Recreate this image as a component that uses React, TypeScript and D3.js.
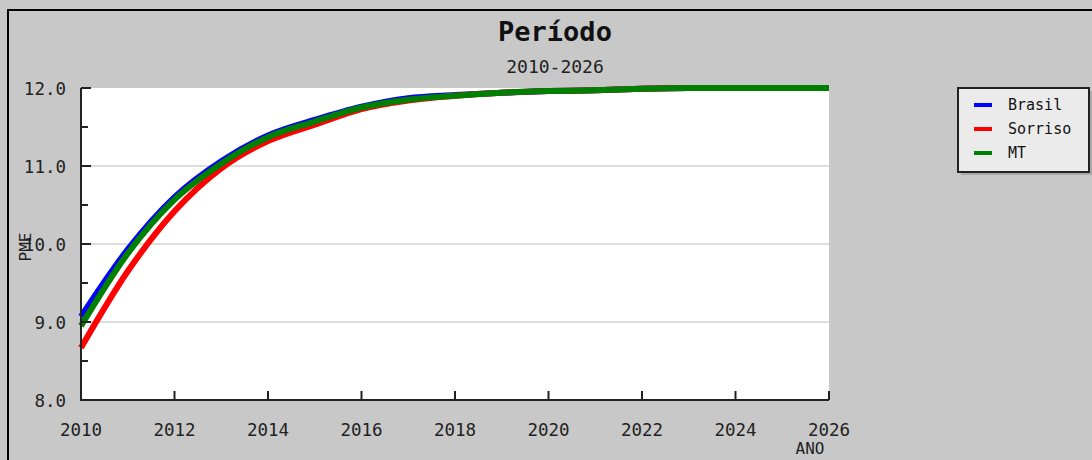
import * as d3 from "d3";

const years = d3.range(2010, 2027);
const brasil = [9.07, 9.93, 10.6, 11.06, 11.39, 11.59, 11.76, 11.87, 11.91, 11.94, 11.96, 11.97, 11.99, 12.0, 12.0, 12.0, 12.0];
const sorriso = [8.67, 9.65, 10.42, 10.97, 11.32, 11.53, 11.73, 11.84, 11.9, 11.94, 11.96, 11.97, 11.99, 12.0, 12.0, 12.0, 12.0];
const mt = [8.95, 9.88, 10.57, 11.03, 11.37, 11.57, 11.75, 11.85, 11.9, 11.94, 11.96, 11.97, 11.99, 12.0, 12.0, 12.0, 12.0];

const seriesNames = ["Brasil", "Sorriso", "MT"];
const seriesColors = ["#0000ff", "#ff0000", "#008000"];
const yTicks = [8, 9, 10, 11, 12];
const yMinor = [8.5, 9.5, 10.5, 11.5];
const xTicks = d3.range(2010, 2027, 2);

const font = "'DejaVu Sans Mono', monospace";

export default function App() {
  const width = 1092;
  const height = 460;
  const left = 81;
  const right = 829;
  const top = 88;
  const bottom = 400;

  const x = d3.scaleLinear().domain([2010, 2026]).range([left, right]);
  const y = d3.scaleLinear().domain([8, 12]).range([bottom, top]);

  const line = d3
    .line<number>()
    .x((d, i) => x(years[i]))
    .y((d) => y(d))
    .curve(d3.curveMonotoneX);

  const allSeries = [brasil, sorriso, mt];

  return (
    <svg
      width={width}
      height={height}
      style={{ position: "absolute", left: 0, top: 0, background: "#c8c8c8" }}
    >
      <rect x={8} y={10} width={1200} height={600} fill="#c8c8c8" stroke="#000" strokeWidth={2} />

      <text x={555} y={41} textAnchor="middle" fontFamily={font} fontWeight="bold" fontSize={27} fill="#111">
        Período
      </text>
      <text x={555} y={73} textAnchor="middle" fontFamily={font} fontSize={18} fill="#222">
        2010-2026
      </text>

      <rect x={left} y={top} width={right - left} height={bottom - top} fill="#fff" />

      {yTicks
        .filter((t) => t > 8 && t < 12)
        .map((t) => (
          <line key={t} x1={left} x2={right} y1={y(t)} y2={y(t)} stroke="#dddddd" strokeWidth={2} />
        ))}

      <defs>
        <clipPath id="plotclip">
          <rect x={left - 4} y={top - 4} width={right - left + 8} height={bottom - top + 8} />
        </clipPath>
      </defs>

      <g clipPath="url(#plotclip)">
        {allSeries.map((s, i) => (
          <path
            key={seriesNames[i]}
            d={line(s) || ""}
            fill="none"
            stroke={seriesColors[i]}
            strokeWidth={6}
            strokeLinejoin="round"
          />
        ))}
      </g>

      {/* axes */}
      <line x1={left} x2={left} y1={top} y2={bottom + 1} stroke="#222" strokeWidth={2} />
      <line x1={left} x2={right} y1={bottom} y2={bottom} stroke="#222" strokeWidth={2} />
      {yTicks.map((t) => (
        <g key={t}>
          <line x1={left} x2={left + 10} y1={y(t)} y2={y(t)} stroke="#222" strokeWidth={2} />
          <text x={66} y={y(t) + 7} textAnchor="end" fontFamily={font} fontSize={17.5} fill="#222">
            {t.toFixed(1)}
          </text>
        </g>
      ))}
      {yMinor.map((t) => (
        <line key={t} x1={left} x2={left + 7} y1={y(t)} y2={y(t)} stroke="#222" strokeWidth={2} />
      ))}
      {xTicks.map((t) => (
        <g key={t}>
          {t > 2010 && (
            <line x1={x(t)} x2={x(t)} y1={bottom} y2={bottom - 9} stroke="#222" strokeWidth={2} />
          )}
          <text x={x(t)} y={436} textAnchor="middle" fontFamily={font} fontSize={17.5} fill="#222">
            {t}
          </text>
        </g>
      ))}
      <text x={810} y={454} textAnchor="middle" fontFamily={font} fontSize={16} fill="#222">
        ANO
      </text>
      <text
        transform="translate(31,247) rotate(-90)"
        textAnchor="middle"
        fontFamily={font}
        fontSize={16}
        fill="#222"
      >
        PME
      </text>

      {/* legend */}
      <rect x={961} y={91} width={132} height={84} fill="#aaaaaa" />
      <rect x={958} y={88} width={131} height={84} fill="#ebebeb" stroke="#222" strokeWidth={2} />
      {seriesNames.map((n, i) => (
        <g key={n}>
          <line
            x1={974}
            x2={992}
            y1={105 + i * 24}
            y2={105 + i * 24}
            stroke={seriesColors[i]}
            strokeWidth={4}
          />
          <text x={1008} y={110 + i * 24} fontFamily={font} fontSize={15} fill="#111">
            {n}
          </text>
        </g>
      ))}
    </svg>
  );
}
